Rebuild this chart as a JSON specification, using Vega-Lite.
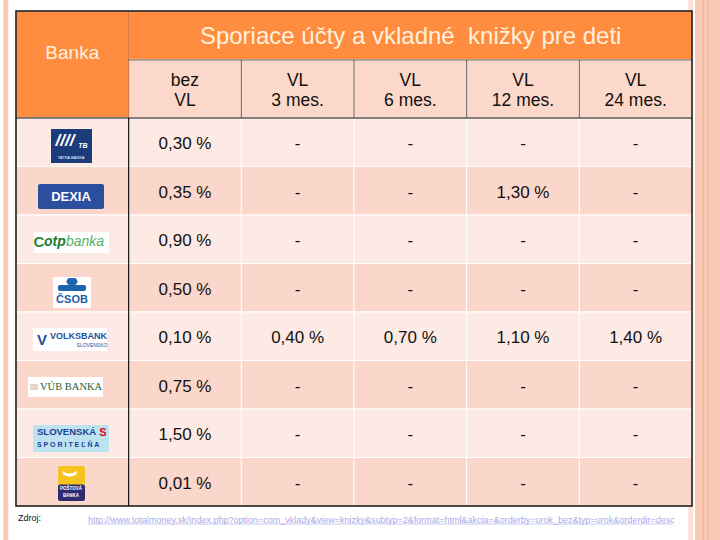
{
"$schema":"https://vega.github.io/schema/vega-lite/v6.json",
"width":720,"height":540,"padding":0,"autosize":{"type":"none"},
"background":"#FFFFFF",
"config":{"view":{"stroke":null},"text":{"font":"Liberation Sans"}},
"datasets":{
 "deco":[
  {"col":-0.79,"colEnd":-0.48,"row":-2,"rowEnd":10,"part":"barL"},
  {"col":5.967,"colEnd":6.046,"row":-2,"rowEnd":10,"part":"stripe"},
  {"col":6.107,"colEnd":7,"row":-2,"rowEnd":10,"part":"band"},
  {"col":6.368,"colEnd":6.418,"row":-2,"rowEnd":10,"part":"bandLine"},
  {"col":6.546,"colEnd":6.596,"row":-2,"rowEnd":10,"part":"bandLine"}
 ],
 "cells":[
  {"row":-1,"rowEnd":1,"col":0,"colEnd":1,"part":"head","text":"Banka"},
  {"row":-1,"rowEnd":0,"col":1,"colEnd":6,"part":"head","text":"Sporiace účty a vkladné\u00a0 knižky pre deti"},
  {"row":0,"rowEnd":1,"col":1,"colEnd":2,"part":"sub","text":"bez\nVL"},
  {"row":0,"rowEnd":1,"col":2,"colEnd":3,"part":"sub","text":"VL\n3 mes."},
  {"row":0,"rowEnd":1,"col":3,"colEnd":4,"part":"sub","text":"VL\n6 mes."},
  {"row":0,"rowEnd":1,"col":4,"colEnd":5,"part":"sub","text":"VL\n12 mes."},
  {"row":0,"rowEnd":1,"col":5,"colEnd":6,"part":"sub","text":"VL\n24 mes."},
  {"row":1,"rowEnd":2,"col":0,"colEnd":1,"part":"odd","text":"Tatra banka"},
  {"row":1,"rowEnd":2,"col":1,"colEnd":2,"part":"odd","text":"0,30 %"},
  {"row":1,"rowEnd":2,"col":2,"colEnd":3,"part":"odd","text":"-"},
  {"row":1,"rowEnd":2,"col":3,"colEnd":4,"part":"odd","text":"-"},
  {"row":1,"rowEnd":2,"col":4,"colEnd":5,"part":"odd","text":"-"},
  {"row":1,"rowEnd":2,"col":5,"colEnd":6,"part":"odd","text":"-"},
  {"row":2,"rowEnd":3,"col":0,"colEnd":1,"part":"even","text":"Dexia banka"},
  {"row":2,"rowEnd":3,"col":1,"colEnd":2,"part":"even","text":"0,35 %"},
  {"row":2,"rowEnd":3,"col":2,"colEnd":3,"part":"even","text":"-"},
  {"row":2,"rowEnd":3,"col":3,"colEnd":4,"part":"even","text":"-"},
  {"row":2,"rowEnd":3,"col":4,"colEnd":5,"part":"even","text":"1,30 %"},
  {"row":2,"rowEnd":3,"col":5,"colEnd":6,"part":"even","text":"-"},
  {"row":3,"rowEnd":4,"col":0,"colEnd":1,"part":"odd","text":"OTP Banka"},
  {"row":3,"rowEnd":4,"col":1,"colEnd":2,"part":"odd","text":"0,90 %"},
  {"row":3,"rowEnd":4,"col":2,"colEnd":3,"part":"odd","text":"-"},
  {"row":3,"rowEnd":4,"col":3,"colEnd":4,"part":"odd","text":"-"},
  {"row":3,"rowEnd":4,"col":4,"colEnd":5,"part":"odd","text":"-"},
  {"row":3,"rowEnd":4,"col":5,"colEnd":6,"part":"odd","text":"-"},
  {"row":4,"rowEnd":5,"col":0,"colEnd":1,"part":"even","text":"ČSOB"},
  {"row":4,"rowEnd":5,"col":1,"colEnd":2,"part":"even","text":"0,50 %"},
  {"row":4,"rowEnd":5,"col":2,"colEnd":3,"part":"even","text":"-"},
  {"row":4,"rowEnd":5,"col":3,"colEnd":4,"part":"even","text":"-"},
  {"row":4,"rowEnd":5,"col":4,"colEnd":5,"part":"even","text":"-"},
  {"row":4,"rowEnd":5,"col":5,"colEnd":6,"part":"even","text":"-"},
  {"row":5,"rowEnd":6,"col":0,"colEnd":1,"part":"odd","text":"Volksbank Slovensko"},
  {"row":5,"rowEnd":6,"col":1,"colEnd":2,"part":"odd","text":"0,10 %"},
  {"row":5,"rowEnd":6,"col":2,"colEnd":3,"part":"odd","text":"0,40 %"},
  {"row":5,"rowEnd":6,"col":3,"colEnd":4,"part":"odd","text":"0,70 %"},
  {"row":5,"rowEnd":6,"col":4,"colEnd":5,"part":"odd","text":"1,10 %"},
  {"row":5,"rowEnd":6,"col":5,"colEnd":6,"part":"odd","text":"1,40 %"},
  {"row":6,"rowEnd":7,"col":0,"colEnd":1,"part":"even","text":"VÚB banka"},
  {"row":6,"rowEnd":7,"col":1,"colEnd":2,"part":"even","text":"0,75 %"},
  {"row":6,"rowEnd":7,"col":2,"colEnd":3,"part":"even","text":"-"},
  {"row":6,"rowEnd":7,"col":3,"colEnd":4,"part":"even","text":"-"},
  {"row":6,"rowEnd":7,"col":4,"colEnd":5,"part":"even","text":"-"},
  {"row":6,"rowEnd":7,"col":5,"colEnd":6,"part":"even","text":"-"},
  {"row":7,"rowEnd":8,"col":0,"colEnd":1,"part":"odd","text":"Slovenská sporiteľňa"},
  {"row":7,"rowEnd":8,"col":1,"colEnd":2,"part":"odd","text":"1,50 %"},
  {"row":7,"rowEnd":8,"col":2,"colEnd":3,"part":"odd","text":"-"},
  {"row":7,"rowEnd":8,"col":3,"colEnd":4,"part":"odd","text":"-"},
  {"row":7,"rowEnd":8,"col":4,"colEnd":5,"part":"odd","text":"-"},
  {"row":7,"rowEnd":8,"col":5,"colEnd":6,"part":"odd","text":"-"},
  {"row":8,"rowEnd":9,"col":0,"colEnd":1,"part":"even","text":"Poštová banka"},
  {"row":8,"rowEnd":9,"col":1,"colEnd":2,"part":"even","text":"0,01 %"},
  {"row":8,"rowEnd":9,"col":2,"colEnd":3,"part":"even","text":"-"},
  {"row":8,"rowEnd":9,"col":3,"colEnd":4,"part":"even","text":"-"},
  {"row":8,"rowEnd":9,"col":4,"colEnd":5,"part":"even","text":"-"},
  {"row":8,"rowEnd":9,"col":5,"colEnd":6,"part":"even","text":"-"}
 ],
 "lines":[
  {"col":1,"colEnd":1,"row":-1,"rowEnd":1,"kind":"hdr"},
  {"col":1,"colEnd":1,"row":1,"rowEnd":9,"kind":"black"},
  {"col":0,"colEnd":6,"row":1,"rowEnd":1,"kind":"black"},
  {"col":1,"colEnd":6,"row":0,"rowEnd":0,"kind":"dark"},
  {"col":2,"colEnd":2,"row":0,"rowEnd":1,"kind":"dark"},
  {"col":3,"colEnd":3,"row":0,"rowEnd":1,"kind":"dark"},
  {"col":4,"colEnd":4,"row":0,"rowEnd":1,"kind":"dark"},
  {"col":5,"colEnd":5,"row":0,"rowEnd":1,"kind":"dark"},
  {"col":0,"colEnd":6,"row":-1,"rowEnd":9,"kind":"border"}
 ],
 "footer":[
  {"col":0,"colEnd":6,"row":9,"kind":"label","text":"Zdroj:"},
  {"col":0,"colEnd":6,"row":9,"kind":"url","text":"http://www.totalmoney.sk/index.php?option=com_vklady&view=knizky&subtyp=2&format=html&akcia=&orderby=urok_bez&typ=urok&orderdir=desc"}
 ]
},
"encoding":{
 "x":{"field":"col","type":"quantitative","scale":{"domain":[-1,0,6,7],"range":[0,16,692,720],"zero":false,"nice":false},"axis":null},
 "y":{"field":"row","type":"quantitative","scale":{"domain":[-2,-1,0,1,9,10],"range":[0,11,60,118,506,540],"zero":false,"nice":false},"axis":null}
},
"layer":[
 {"data":{"name":"deco"},"mark":{"type":"rect"},
  "encoding":{"x2":{"field":"colEnd"},"y2":{"field":"rowEnd"},
   "color":{"field":"part","type":"nominal","legend":null,"scale":{"domain":["barL","stripe","band","bandLine","head","sub","odd","even"],"range":["#F9C9B9","#FCE0D6","#F9CAB6","#F2B7A0","#FF8C3F","#FCD8CA","#FDEAE4","#FBD6CA"]}}}},
 {"data":{"name":"cells"},"mark":{"type":"rect","stroke":"#FFFFFF","strokeWidth":1},
  "encoding":{"x2":{"field":"colEnd"},"y2":{"field":"rowEnd"},
   "color":{"field":"part","type":"nominal","legend":null,"scale":{"domain":["barL","stripe","band","bandLine","head","sub","odd","even"],"range":["#F9C9B9","#FCE0D6","#F9CAB6","#F2B7A0","#FF8C3F","#FCD8CA","#FDEAE4","#FBD6CA"]}}}},

 {"data":{"name":"cells"},"transform":[{"filter":"datum.col == 0 && datum.text == 'Tatra banka'"}],
  "layer":[
   {"mark":{"type":"rect","align":"left","baseline":"top","width":41,"height":34,"xOffset":35,"yOffset":11,"color":"#1B3B7B"}},
   {"mark":{"type":"text","text":"////","color":"#FFFFFF","fontSize":17,"fontWeight":"bold","fontStyle":"italic","align":"center","baseline":"middle","dx":49,"dy":23}},
   {"mark":{"type":"text","text":"TB","color":"#FFFFFF","fontSize":7,"fontWeight":"bold","fontStyle":"italic","align":"center","baseline":"middle","dx":67,"dy":28}},
   {"mark":{"type":"text","text":"TATRA BANKA","color":"#FFFFFF","fontSize":4,"align":"center","baseline":"middle","dx":55,"dy":40}}
  ]},
 {"data":{"name":"cells"},"transform":[{"filter":"datum.col == 0 && datum.text == 'Dexia banka'"}],
  "layer":[
   {"mark":{"type":"rect","align":"left","baseline":"top","width":66,"height":25,"xOffset":22,"yOffset":17.5,"color":"#2C4E9F","cornerRadius":2}},
   {"mark":{"type":"text","text":"DEXIA","color":"#FFFFFF","fontSize":13,"fontWeight":"bold","align":"center","baseline":"middle","dx":55,"dy":30.5}}
  ]},
 {"data":{"name":"cells"},"transform":[{"filter":"datum.col == 0 && datum.text == 'OTP Banka'"}],
  "layer":[
   {"mark":{"type":"rect","align":"left","baseline":"top","width":75,"height":21,"xOffset":18,"yOffset":17,"color":"#FFFFFF"}},
   {"mark":{"type":"text","text":"C","color":"#2E8540","fontSize":15,"fontWeight":"bold","align":"center","baseline":"middle","dx":23,"dy":27}},
   {"mark":{"type":"text","text":"otp","color":"#1D7A35","fontSize":14,"fontWeight":"bold","fontStyle":"italic","align":"left","baseline":"middle","dx":28,"dy":27}},
   {"mark":{"type":"text","text":"banka","color":"#57B05F","fontSize":14,"fontStyle":"italic","align":"left","baseline":"middle","dx":50,"dy":27}}
  ]},
 {"data":{"name":"cells"},"transform":[{"filter":"datum.col == 0 && datum.text == 'ČSOB'"}],
  "layer":[
   {"mark":{"type":"rect","align":"left","baseline":"top","width":38,"height":31,"xOffset":37,"yOffset":13.5,"color":"#FFFFFF"}},
   {"mark":{"type":"rect","align":"left","baseline":"top","width":11,"height":7,"xOffset":50.5,"yOffset":14.5,"color":"#1C64AE","cornerRadius":3.5}},
   {"mark":{"type":"rect","align":"left","baseline":"top","width":28,"height":6,"xOffset":42,"yOffset":21.5,"color":"#1C64AE","cornerRadius":2}},
   {"mark":{"type":"text","text":"ČSOB","color":"#1C5EA6","fontSize":11,"fontWeight":"bold","align":"center","baseline":"middle","dx":56,"dy":36.5}}
  ]},
 {"data":{"name":"cells"},"transform":[{"filter":"datum.col == 0 && datum.text == 'Volksbank Slovensko'"}],
  "layer":[
   {"mark":{"type":"rect","align":"left","baseline":"top","width":74,"height":23,"xOffset":17,"yOffset":16,"color":"#FFFFFF"}},
   {"mark":{"type":"text","text":"V","color":"#1E4FA0","fontSize":15,"fontWeight":"bold","align":"center","baseline":"middle","dx":26,"dy":28}},
   {"mark":{"type":"text","text":"VOLKSBANK","color":"#1E4FA0","fontSize":9,"fontWeight":"bold","align":"left","baseline":"middle","dx":34,"dy":24}},
   {"mark":{"type":"text","text":"SLOVENSKO","color":"#1E4FA0","fontSize":5,"align":"center","baseline":"middle","dx":76,"dy":33}}
  ]},
 {"data":{"name":"cells"},"transform":[{"filter":"datum.col == 0 && datum.text == 'VÚB banka'"}],
  "layer":[
   {"mark":{"type":"rect","align":"left","baseline":"top","width":75,"height":20,"xOffset":12,"yOffset":16.5,"color":"#FFFFFF"}},
   {"mark":{"type":"rect","align":"left","baseline":"top","width":8,"height":6,"xOffset":14,"yOffset":23.5,"color":"#E6D3C3"}},
   {"mark":{"type":"text","text":"VÚB BANKA","color":"#2A5B3A","fontSize":10.5,"font":"Liberation Serif","align":"left","baseline":"middle","dx":24,"dy":26.5}}
  ]},
 {"data":{"name":"cells"},"transform":[{"filter":"datum.col == 0 && datum.text == 'Slovenská sporiteľňa'"}],
  "layer":[
   {"mark":{"type":"rect","align":"left","baseline":"top","width":76,"height":27,"xOffset":17,"yOffset":16,"color":"#BDE3F1"}},
   {"mark":{"type":"text","text":"SLOVENSKÁ","color":"#1D3E92","fontSize":9.5,"fontWeight":"bold","align":"left","baseline":"middle","dx":21,"dy":23}},
   {"mark":{"type":"text","text":"S","color":"#E2001A","fontSize":11,"fontWeight":"bold","align":"center","baseline":"middle","dx":87,"dy":24}},
   {"mark":{"type":"text","text":"S P O R I T E Ľ Ň A","color":"#1D3E92","fontSize":7,"fontWeight":"bold","align":"left","baseline":"middle","dx":21,"dy":36}}
  ]},
 {"data":{"name":"cells"},"transform":[{"filter":"datum.col == 0 && datum.text == 'Poštová banka'"}],
  "layer":[
   {"mark":{"type":"rect","align":"left","baseline":"top","width":27,"height":19,"xOffset":42,"yOffset":8.5,"color":"#F6C41E","cornerRadius":2}},
   {"mark":{"type":"rect","align":"left","baseline":"top","width":27,"height":16.5,"xOffset":42,"yOffset":27,"color":"#2E2B6F","cornerRadius":2}},
   {"mark":{"type":"text","text":"⌣","color":"#FFFFFF","fontSize":24,"fontWeight":"bold","font":"DejaVu Sans","align":"center","baseline":"middle","dx":54,"dy":15}},
   {"mark":{"type":"text","text":"POŠTOVÁ","color":"#FFFFFF","fontSize":4.5,"fontWeight":"bold","align":"center","baseline":"middle","dx":55,"dy":31.5}},
   {"mark":{"type":"text","text":"BANKA","color":"#FFFFFF","fontSize":4.5,"fontWeight":"bold","align":"center","baseline":"middle","dx":55,"dy":38.5}}
  ]},

 {"data":{"name":"lines"},"transform":[{"filter":"datum.kind == 'hdr'"}],"mark":{"type":"rule","color":"#C9652E","strokeWidth":1},
  "encoding":{"x2":{"field":"colEnd"},"y2":{"field":"rowEnd"}}},
 {"data":{"name":"lines"},"transform":[{"filter":"datum.kind == 'dark'"}],"mark":{"type":"rule","color":"#3A3A3A","strokeWidth":0.8},
  "encoding":{"x2":{"field":"colEnd"},"y2":{"field":"rowEnd"}}},
 {"data":{"name":"lines"},"transform":[{"filter":"datum.kind == 'black'"}],"mark":{"type":"rule","color":"#111111","strokeWidth":1.2},
  "encoding":{"x2":{"field":"colEnd"},"y2":{"field":"rowEnd"}}},
 {"data":{"name":"lines"},"transform":[{"filter":"datum.kind == 'border'"}],"mark":{"type":"rect","filled":false,"stroke":"#111111","strokeWidth":1.5},
  "encoding":{"x2":{"field":"colEnd"},"y2":{"field":"rowEnd"}}},

 {"data":{"name":"cells"},"transform":[{"filter":"datum.part == 'head' && datum.col == 0"}],
  "mark":{"type":"text","color":"#FFF1DE","fontSize":19,"align":"center","baseline":"middle","dx":56.3,"dy":42},
  "encoding":{"text":{"field":"text","type":"nominal"}}},
 {"data":{"name":"cells"},"transform":[{"filter":"datum.part == 'head' && datum.col == 1"}],
  "mark":{"type":"text","color":"#FFF1DE","fontSize":24,"align":"center","baseline":"middle","dx":282,"dy":26},
  "encoding":{"text":{"field":"text","type":"nominal"}}},
 {"data":{"name":"cells"},"transform":[{"filter":"datum.part == 'sub'"}],
  "mark":{"type":"text","color":"#111111","fontSize":17.5,"lineBreak":"\n","lineHeight":20,"align":"center","baseline":"middle","dx":56.3,"dy":21},
  "encoding":{"text":{"field":"text","type":"nominal"}}},
 {"data":{"name":"cells"},"transform":[{"filter":"datum.row >= 1 && datum.col >= 1"}],
  "mark":{"type":"text","color":"#111111","fontSize":17,"align":"center","baseline":"middle","dx":56.3,"dy":26},
  "encoding":{"text":{"field":"text","type":"nominal"}}},

 {"data":{"name":"footer"},"transform":[{"filter":"datum.kind == 'label'"}],
  "mark":{"type":"text","color":"#111111","fontSize":9,"align":"left","baseline":"middle","dx":2,"dy":11.5},
  "encoding":{"text":{"field":"text","type":"nominal"}}},
 {"data":{"name":"footer"},"transform":[{"filter":"datum.kind == 'url'"}],
  "mark":{"type":"text","color":"#A9A9E6","fontSize":9,"align":"left","baseline":"middle","dx":72,"dy":14},
  "encoding":{"text":{"field":"text","type":"nominal"}}},
 {"data":{"name":"footer"},"transform":[{"filter":"datum.kind == 'url'"}],
  "mark":{"type":"rule","color":"#B9B9EC","strokeWidth":0.8,"xOffset":72,"x2Offset":-19,"yOffset":18},
  "encoding":{"x2":{"field":"colEnd"}}}
]
}
